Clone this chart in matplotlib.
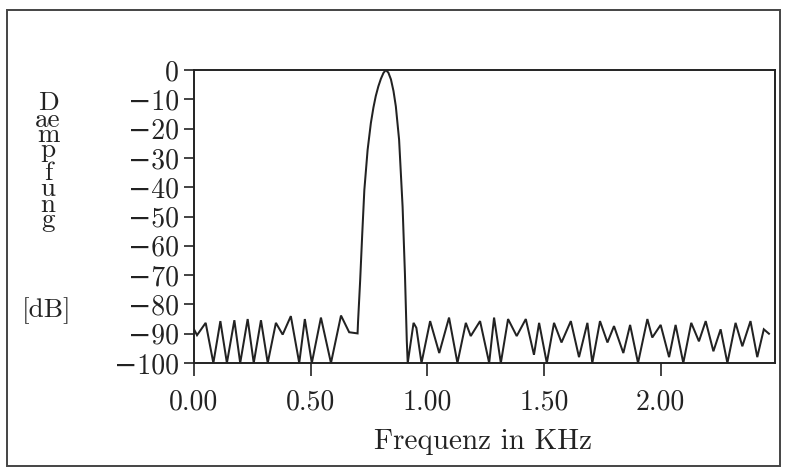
import matplotlib
matplotlib.use("Agg")
import matplotlib.pyplot as plt
from matplotlib.patches import Rectangle

# ---- data (frequency in kHz, attenuation in dB) ----
freq_khz = [
    0.000, 0.013, 0.050, 0.083, 0.113, 0.141, 0.173, 0.198, 0.230, 0.256,
    0.287, 0.316, 0.351, 0.380, 0.415, 0.451, 0.475, 0.505, 0.544, 0.587,
    0.630, 0.665, 0.701,
    0.703, 0.712, 0.721, 0.730, 0.744, 0.758, 0.769, 0.779, 0.790, 0.801,
    0.812, 0.822, 0.833, 0.844, 0.855, 0.865, 0.879, 0.894, 0.904, 0.912,
    0.916,
    0.941, 0.953, 0.975, 1.012, 1.051, 1.093, 1.129, 1.165, 1.186, 1.226,
    1.265, 1.286, 1.315, 1.346, 1.383, 1.422, 1.457, 1.479, 1.512, 1.543,
    1.575, 1.615, 1.650, 1.686, 1.707, 1.740, 1.772, 1.800, 1.840, 1.869,
    1.903, 1.943, 1.964, 2.000, 2.036, 2.064, 2.097, 2.131, 2.164, 2.193,
    2.226, 2.257, 2.286, 2.321, 2.350, 2.385, 2.414, 2.442, 2.464,
]
attenuation_db = [
    -88.5, -90.5, -86.3, -100.0, -85.7, -100.0, -85.4, -100.0, -85.0, -100.0,
    -85.4, -100.0, -86.3, -90.3, -84.0, -100.0, -85.0, -100.0, -84.5, -100.0,
    -83.8, -89.5, -89.9,
    -86.0, -72.0, -56.0, -41.0, -27.3, -18.1, -12.8, -8.9, -5.6, -3.0,
    -1.0, 0.0, -0.9, -3.2, -7.2, -12.4, -23.8, -46.7, -69.6, -92.5,
    -100.0,
    -86.3, -88.0, -100.0, -85.7, -96.6, -84.5, -100.0, -86.3, -90.8, -85.7,
    -100.0, -84.5, -100.0, -85.0, -90.8, -85.0, -97.2, -86.3, -100.0, -86.3,
    -93.0, -85.7, -98.0, -86.3, -100.0, -85.7, -93.0, -87.4, -96.6, -87.0,
    -100.0, -85.0, -91.3, -87.0, -98.0, -87.0, -100.0, -86.3, -92.6, -85.7,
    -96.0, -88.5, -100.0, -86.3, -94.3, -85.7, -98.0, -88.5, -90.0,
]
x_ticks = [0.0, 0.5, 1.0, 1.5, 2.0]
x_tick_labels = ["0.00", "0.50", "1.00", "1.50", "2.00"]
y_ticks = [0, -10, -20, -30, -40, -50, -60, -70, -80, -90, -100]
y_tick_labels = ["0", "\u221210", "\u221220", "\u221230", "\u221240", "\u221250",
                 "\u221260", "\u221270", "\u221280", "\u221290", "\u2212100"]
ylabel_letters = ["D", "ae", "m", "p", "f", "u", "n", "g"]
ylabel_unit = "[dB]"
xlabel_text = "Frequenz in KHz"

FAM = ["cmr10", "DejaVu Serif"]
plt.rcParams["font.family"] = FAM
plt.rcParams["axes.unicode_minus"] = True

W, H = 785, 469
fig = plt.figure(figsize=(W / 100, H / 100), dpi=100)
fig.patch.set_facecolor("white")

ink = "#222222"

# axes position in pixels
ax_l, ax_r, ax_t, ax_b = 194, 775, 70, 363
ax = fig.add_axes([ax_l / W, 1 - ax_b / H, (ax_r - ax_l) / W, (ax_b - ax_t) / H])
ax.plot(freq_khz, attenuation_db, color=ink, lw=1.45, solid_joinstyle="miter")
ax.set_xlim(0, 2.49)
ax.set_ylim(-100, 0)

for s in ax.spines.values():
    s.set_color(ink)
    s.set_linewidth(1.4)

ax.set_xticks(x_ticks)
ax.set_xticklabels(x_tick_labels)
ax.set_yticks(y_ticks)
ax.set_yticklabels(y_tick_labels)
ax.tick_params(axis="y", direction="out", length=7.5, width=1.2, color=ink,
               pad=3.5, labelsize=20, labelcolor=ink)
ax.tick_params(axis="x", direction="out", length=9, width=1.2, color=ink,
               pad=10, labelsize=20, labelcolor=ink)

# stacked y label (baselines in pixels from top)
letter_baselines = [110, 127, 142, 157, 180, 196, 212, 227]
for letter, yb in zip(ylabel_letters, letter_baselines):
    fig.text(48 / W, 1 - yb / H, letter, ha="center",
             va="baseline", fontsize=19.5, color=ink)
fig.text(47 / W, 1 - 317 / H, ylabel_unit, ha="center", va="baseline",
         fontsize=19.5, color=ink)

fig.text(483 / W, 1 - 449 / H, xlabel_text, ha="center", va="baseline",
         fontsize=21, color=ink)

# outer frame
fig.patches.append(Rectangle((7 / W, 1 - 466 / H), (780 - 7) / W, (466 - 10) / H,
                             transform=fig.transFigure, fill=False,
                             edgecolor="#444444", lw=1.4))

fig.savefig("out.png", dpi=100)
